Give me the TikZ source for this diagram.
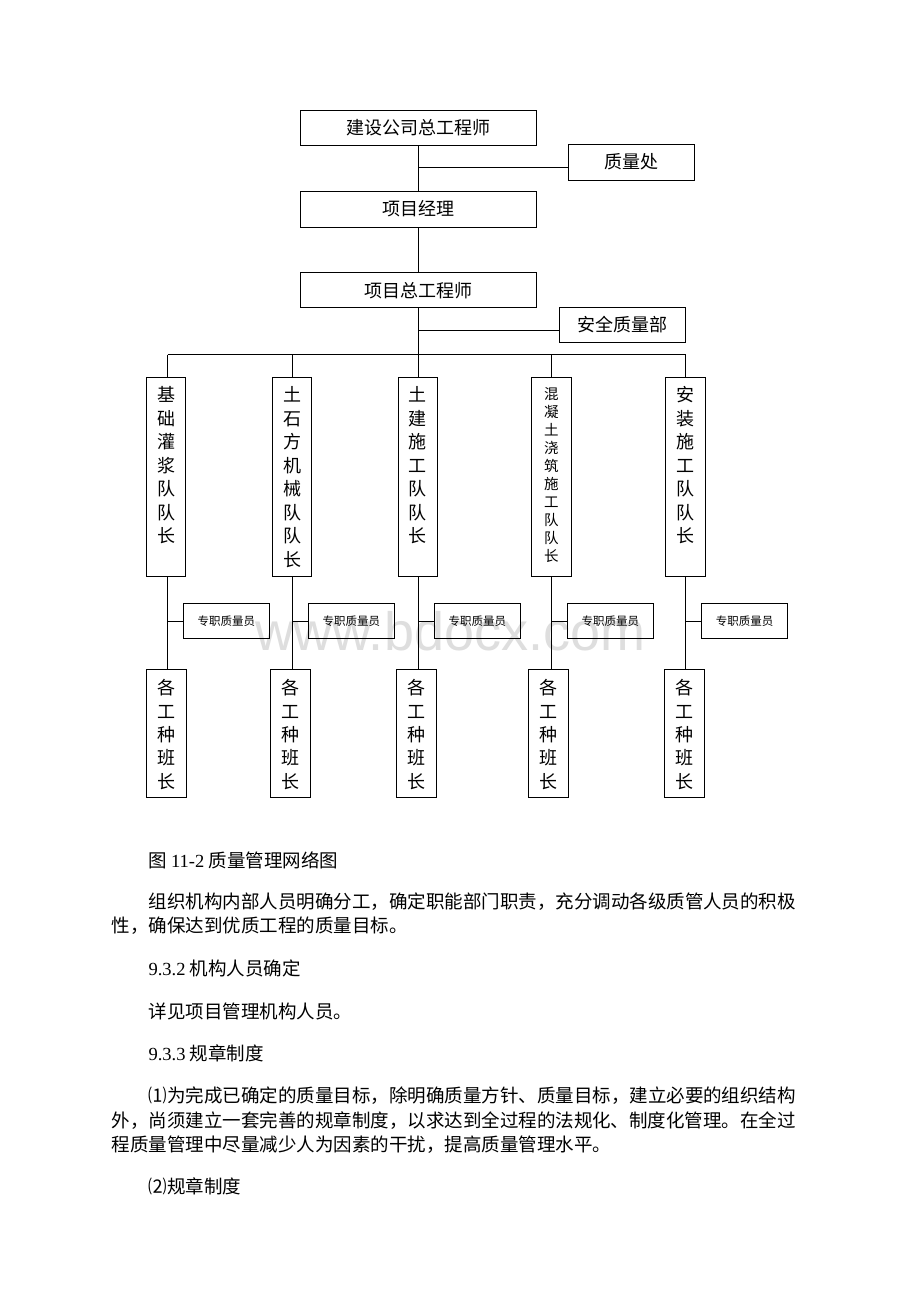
\documentclass[tikz,border=0pt]{standalone}
\usepackage{fontspec}
\setmainfont{Liberation Serif}
\newfontfamily\cjk{Noto Sans CJK SC}
\newfontfamily\wmfont{Liberation Sans}
\newcommand\fA{\cjk\fontsize{18}{22}\selectfont}
\newcommand\fB{\cjk\fontsize{14.5}{18}\selectfont}
\newcommand\fC{\cjk\fontsize{11.5}{14}\selectfont}
\newcommand\fP{\cjk\fontsize{18.5}{24}\selectfont}
\newcommand\lat[1]{{\rmfamily\fontsize{18.5}{24}\selectfont #1}}
\definecolor{wm}{RGB}{222,222,222}
\begin{document}
\begin{tikzpicture}[x=1pt,y=-1pt,
  every node/.style={inner sep=0pt, outer sep=0pt},
  ln/.style={line width=1pt, draw=black},
  hbox/.style={draw, line width=1pt, font=\fA, text height=15.8pt, text depth=2.2pt},
  vbox/.style={draw, line width=1pt, minimum width=39.5pt},
  qbox/.style={draw, line width=1pt, minimum width=86.7pt, minimum height=35.3pt, font=\fC, text height=10pt, text depth=1.5pt},
  ch/.style={font=\fA, text height=15.8pt, text depth=2.2pt},
  chs/.style={font=\fB, text height=12.8pt, text depth=1.7pt},
  para/.style={anchor=base west, font=\fP},
]
\fill[white] (0,0) rectangle (920,1302);
\useasboundingbox (0,0) rectangle (920,1302);

% watermark
\node[anchor=base west, font=\wmfont\fontsize{54}{60}\selectfont, text=wm] (wm) at (255,650) {www.bdocx.com};

% top part
\node[hbox, minimum width=236pt, minimum height=35pt] (A) at (418.6,127.5) {建设公司总工程师};
\node[hbox, minimum width=126pt, minimum height=36pt] (Q) at (631,162) {质量处};
\node[hbox, minimum width=236pt, minimum height=36pt] (B) at (418.6,209) {项目经理};
\node[hbox, minimum width=236pt, minimum height=34.5pt] (C) at (418.6,290.2) {项目总工程师};
\node[hbox, minimum width=125.7pt, minimum height=35.4pt] (S) at (622.8,325) {安全质量部};

\draw[ln] (A.south) -- (B.north);
\coordinate (j1) at (418.6,167.7);
\draw[ln] (j1) -- (j1 -| Q.west);
\draw[ln] (B.south) -- (C.north);
\coordinate (j2) at (418.6,330.7);
\draw[ln] (j2) -- (j2 -| S.west);
\coordinate (bus) at (418.6,354.5);
\draw[ln] (C.south) -- (bus);

% columns
\foreach \i/\lx/\ux/\bx in {1/167.5/166/166, 2/292.5/292/290.7, 3/418.6/417.8/416.5, 4/551.5/551.4/548.5, 5/685.7/685.4/684.2} {
  \coordinate (b\i) at (\lx,354.5);
  \node[vbox, minimum height=198.5pt] (U\i) at (\ux,476.75) {};
  \node[vbox, minimum width=40pt, minimum height=128.5pt] (L\i) at (\bx,733.25) {};
  \coordinate (k\i) at (\lx,621.3);
  \node[qbox, anchor=west] (Z\i) at (\lx+15.5,621.3) {专职质量员};
  \draw[ln] (b\i) -- (b\i |- U\i.north);
  \draw[ln] (b\i |- U\i.south) -- (b\i |- L\i.north);
  \draw[ln] (k\i) -- (Z\i.west);
  \foreach \c [count=\j] in {各,工,种,班,长}
    \node[ch] (l\i c\j) at (\bx,688+23.3*\j-23.3) {\c};
}
\draw[ln] (b1) -- (b5);

\foreach \c [count=\j] in {基,础,灌,浆,队,队,长}
  \node[ch] (u1c\j) at (166,395+23.5*\j-23.5) {\c};
\foreach \c [count=\j] in {土,石,方,机,械,队,队,长}
  \node[ch] (u2c\j) at (292,395+23.5*\j-23.5) {\c};
\foreach \c [count=\j] in {土,建,施,工,队,队,长}
  \node[ch] (u3c\j) at (417.8,395+23.5*\j-23.5) {\c};
\foreach \c [count=\j] in {混,凝,土,浇,筑,施,工,队,队,长}
  \node[chs] (u4c\j) at (551.4,393.5+18*\j-18) {\c};
\foreach \c [count=\j] in {安,装,施,工,队,队,长}
  \node[ch] (u5c\j) at (685.4,395+23.5*\j-23.5) {\c};

% body text
\node[para] (p1) at (148.5,867) {图 \lat{11-2} 质量管理网络图};
\node[para] (p2) at (148.5,908) {组织机构内部人员明确分工，确定职能部门职责，充分调动各级质管人员的积极};
\node[para] (p3) at (111.5,932) {性，确保达到优质工程的质量目标。};
\node[para] (p4) at (148.5,975) {\lat{9.3.2} 机构人员确定};
\node[para] (p5) at (148.5,1018) {详见项目管理机构人员。};
\node[para] (p6) at (148.5,1060) {\lat{9.3.3} 规章制度};
\node[para] (p7) at (148.5,1102) {⑴为完成已确定的质量目标，除明确质量方针、质量目标，建立必要的组织结构};
\node[para] (p8) at (111.5,1127) {外，尚须建立一套完善的规章制度，以求达到全过程的法规化、制度化管理。在全过};
\node[para] (p9) at (111.5,1151) {程质量管理中尽量减少人为因素的干扰，提高质量管理水平。};
\node[para] (p10) at (148.5,1193) {⑵规章制度};
\end{tikzpicture}
\end{document}
